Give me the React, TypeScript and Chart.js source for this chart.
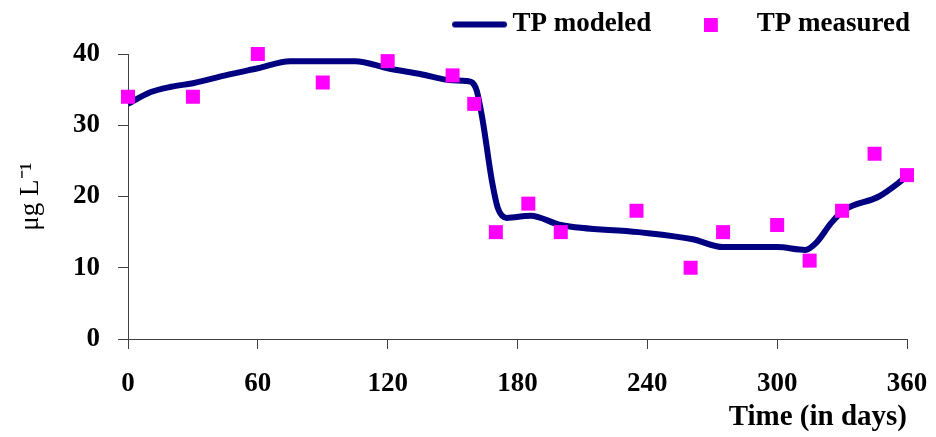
import React, { useEffect, useRef } from "react";
import { Chart, registerables } from "chart.js";

Chart.register(...registerables);

// Modeled TP (smooth curve), days vs µg/L
const modeledDays = [0, 10, 20, 30, 45, 60, 75, 90, 105, 120, 135, 150, 157, 161, 164, 168, 171, 175, 186, 200, 236, 261, 275, 300, 313, 318, 325, 331, 347, 360];
const modeledValues = [33.0, 34.6, 35.4, 35.9, 37.0, 38.0, 39.0, 39.0, 39.0, 38.0, 37.2, 36.3, 36.2, 35.0, 30.5, 22.5, 18.3, 17.0, 17.3, 16.0, 15.0, 14.0, 12.9, 12.9, 12.5, 13.5, 16.3, 18.1, 20.0, 22.8];

// Measured TP
const measuredDays = [0, 30, 60, 90, 120, 150, 160, 170, 185, 200, 235, 260, 275, 300, 315, 330, 345, 360];
const measuredValues = [34, 34, 40, 36, 39, 37, 33, 15, 19, 15, 18, 10, 15, 16, 11, 18, 26, 23];

const xTicks = [0, 60, 120, 180, 240, 300, 360];
const yTicks = [0, 10, 20, 30, 40];

const seriesNames = ["TP modeled", "TP measured"];
const lineColor = "#000080";
const markerColor = "#ff00ff";
const axisColor = "#404040";
const FONT = "'Liberation Serif', 'Times New Roman', serif";

function makeLineIcon() {
  const c = document.createElement("canvas");
  c.width = 80;
  c.height = 8;
  const ctx = c.getContext("2d")!;
  ctx.strokeStyle = lineColor;
  ctx.lineWidth = 6;
  ctx.lineCap = "round";
  ctx.beginPath();
  ctx.moveTo(24, 4);
  ctx.lineTo(73, 4);
  ctx.stroke();
  return c;
}

function makeSquareIcon() {
  const c = document.createElement("canvas");
  c.width = 23;
  c.height = 14;
  const ctx = c.getContext("2d")!;
  ctx.fillStyle = markerColor;
  ctx.fillRect(0, 0, 14, 14);
  return c;
}

const legendShift = {
  id: "legendShift",
  afterLayout(chart: any) {
    if (chart.legend) {
      chart.legend.top -= 6;
      chart.legend.bottom -= 6;
    }
  },
};

export default function App() {
  const ref = useRef<HTMLCanvasElement | null>(null);

  useEffect(() => {
    if (!ref.current) return;
    const lineIcon = makeLineIcon();
    const squareIcon = makeSquareIcon();
    const chart = new Chart(ref.current, {
      type: "scatter",
      plugins: [legendShift],
      data: {
        datasets: [
          {
            label: seriesNames[0],
            data: modeledDays.map((d, i) => ({ x: d, y: modeledValues[i] })),
            showLine: true,
            borderColor: lineColor,
            backgroundColor: lineColor,
            borderWidth: 6,
            pointRadius: 0,
            pointHoverRadius: 0,
            cubicInterpolationMode: "monotone",
            clip: false,
            order: 2,
          },
          {
            label: seriesNames[1],
            data: measuredDays.map((d, i) => ({ x: d, y: measuredValues[i] })),
            showLine: false,
            pointStyle: "rect",
            pointRadius: 9.9,
            pointBorderWidth: 0,
            borderWidth: 0,
            backgroundColor: markerColor,
            borderColor: markerColor,
            clip: false,
            order: 1,
          },
        ],
      },
      options: {
        animation: false,
        responsive: false,
        maintainAspectRatio: false,
        layout: { padding: { top: 0, right: 17, bottom: 0, left: 0 } },
        plugins: {
          tooltip: { enabled: false },
          legend: {
            position: "top",
            align: "end",
            labels: {
              usePointStyle: true,
              pointStyleWidth: 56,
              padding: 9,
              color: "#000",
              font: { family: FONT, size: 27, weight: "bold" },
              generateLabels: () => [
                {
                  text: seriesNames[0] + "    ",
                  pointStyle: lineIcon as any,
                  fillStyle: "rgba(0,0,0,0)",
                  strokeStyle: "rgba(0,0,0,0)",
                  lineWidth: 0,
                  hidden: false,
                  datasetIndex: 0,
                  fontColor: "#000",
                },
                {
                  text: seriesNames[1],
                  pointStyle: squareIcon as any,
                  fillStyle: "rgba(0,0,0,0)",
                  strokeStyle: "rgba(0,0,0,0)",
                  lineWidth: 0,
                  hidden: false,
                  datasetIndex: 1,
                  fontColor: "#000",
                },
              ],
            },
          },
        },
        scales: {
          x: {
            type: "linear",
            min: xTicks[0],
            max: xTicks[xTicks.length - 1],
            afterBuildTicks: (scale: any) => {
              scale.ticks = xTicks.map((v) => ({ value: v }));
            },
            afterFit: (scale: any) => {
              scale.height = 98;
              scale.paddingLeft = 0;
              scale.paddingRight = 29;
            },
            grid: {
              display: true,
              drawOnChartArea: false,
              drawTicks: true,
              tickLength: 10,
              color: axisColor,
              lineWidth: 1,
            },
            border: { display: true, color: axisColor, width: 1 },
            ticks: {
              color: "#000",
              padding: 19,
              maxRotation: 0,
              font: { family: FONT, size: 27, weight: "bold" },
            },
            title: {
              display: true,
              text: "Time (in days)",
              align: "end",
              color: "#000",
              padding: { top: 0, bottom: 2 },
              font: { family: FONT, size: 29, weight: "bold" },
            },
          },
          y: {
            type: "linear",
            min: yTicks[0],
            max: yTicks[yTicks.length - 1],
            afterBuildTicks: (scale: any) => {
              scale.ticks = yTicks.map((v) => ({ value: v }));
            },
            afterFit: (scale: any) => {
              scale.width = 128;
              scale.paddingTop = 54;
            },
            grid: {
              display: true,
              drawOnChartArea: false,
              drawTicks: true,
              tickLength: 10,
              color: axisColor,
              lineWidth: 1,
            },
            border: { display: true, color: axisColor, width: 1 },
            ticks: {
              color: "#000",
              padding: 18,
              font: { family: FONT, size: 27, weight: "bold" },
            },
            title: {
              display: true,
              text: "μg L⁻¹",
              color: "#000",
              padding: { top: 15, bottom: 0 },
              font: { family: FONT, size: 27, weight: "normal" },
            },
          },
        },
      },
    });
    return () => chart.destroy();
  }, []);

  return (
    <div style={{ position: "fixed", left: 0, top: 0, width: 936, height: 437, background: "#fff" }}>
      <canvas ref={ref} width={936} height={437} style={{ width: 936, height: 437 }} />
    </div>
  );
}
